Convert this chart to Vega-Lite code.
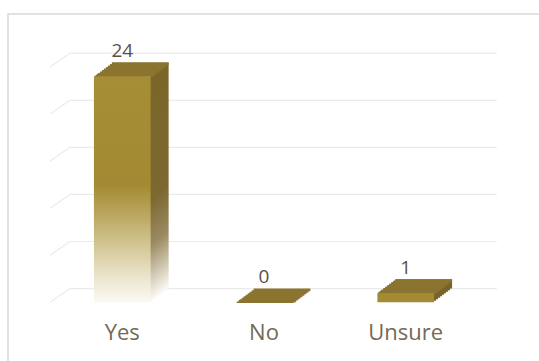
{
  "$schema": "https://vega.github.io/schema/vega-lite/v6.json",
  "width": 540,
  "height": 360,
  "autosize": "none",
  "padding": {"left": 8, "top": 14, "right": 0, "bottom": 0},
  "background": "white",
  "config": {"view": {"stroke": "#d9d9d9", "strokeWidth": 1.5}},
  "data": {"values": [
    {"cat": "Yes", "value": 24},
    {"cat": "No", "value": 0},
    {"cat": "Unsure", "value": 1}
  ]},
  "encoding": {
    "x": {"field": "cat", "type": "nominal", "sort": ["Yes", "No", "Unsure"], "axis": null,
          "scale": {"paddingInner": 0.6, "paddingOuter": 0.705, "align": 0.43}},
    "y": {"field": "value", "type": "quantitative", "axis": null,
          "scale": {"domain": [0, 25], "range": [288.3, 52.9], "nice": false, "zero": true}}
  },
  "layer": [
    {
      "data": {"values": [{"g": 0}, {"g": 5}, {"g": 10}, {"g": 15}, {"g": 20}, {"g": 25}]},
      "mark": {"type": "rule", "color": "#ebebeb", "strokeWidth": 1.2, "xOffset": -72.25, "x2Offset": -52.25, "y2Offset": -13.7},
      "encoding": {
        "x": {"datum": "Yes", "type": "nominal", "bandPosition": 0.5},
        "x2": {"datum": "Yes", "bandPosition": 0.5},
        "y": {"field": "g", "type": "quantitative"},
        "y2": {"field": "g"}
      }
    },
    {
      "data": {"values": [{"g": 0}, {"g": 5}, {"g": 10}, {"g": 15}, {"g": 20}, {"g": 25}]},
      "mark": {"type": "rule", "color": "#ebebeb", "strokeWidth": 1.2, "xOffset": -52.25, "x2Offset": 91, "yOffset": -13.7, "y2Offset": -13.7},
      "encoding": {
        "x": {"datum": "Yes", "type": "nominal", "bandPosition": 0.5},
        "x2": {"datum": "Unsure", "bandPosition": 0.5},
        "y": {"field": "g", "type": "quantitative"},
        "y2": {"field": "g"}
      }
    },
    {"mark": {"type": "bar", "xOffset": 18, "yOffset": -13.7, "y2Offset": -13.7}, "encoding": {"fill": {"condition": {"test": "datum.value > 5", "value": {"gradient": "linear", "x1": 0, "y1": 0, "x2": 0, "y2": 1, "stops": [{"offset": 0, "color": "#7b6629"}, {"offset": 0.55, "color": "#7d6830"}, {"offset": 0.75, "color": "#9a8b62"}, {"offset": 0.9, "color": "#d6cebb"}, {"offset": 1, "color": "#fbfaf6"}]}}, "value": "#786428"}}},
    {"mark": {"type": "bar", "xOffset": 16, "yOffset": -12.16, "y2Offset": -12.16}, "encoding": {"fill": {"condition": {"test": "datum.value > 5", "value": {"gradient": "linear", "x1": 0, "y1": 0, "x2": 0, "y2": 1, "stops": [{"offset": 0, "color": "#7b6629"}, {"offset": 0.55, "color": "#7d6830"}, {"offset": 0.75, "color": "#9a8b62"}, {"offset": 0.9, "color": "#d6cebb"}, {"offset": 1, "color": "#fbfaf6"}]}}, "value": "#786428"}}},
    {"mark": {"type": "bar", "xOffset": 14, "yOffset": -10.64, "y2Offset": -10.64}, "encoding": {"fill": {"condition": {"test": "datum.value > 5", "value": {"gradient": "linear", "x1": 0, "y1": 0, "x2": 0, "y2": 1, "stops": [{"offset": 0, "color": "#7b6629"}, {"offset": 0.55, "color": "#7d6830"}, {"offset": 0.75, "color": "#9a8b62"}, {"offset": 0.9, "color": "#d6cebb"}, {"offset": 1, "color": "#fbfaf6"}]}}, "value": "#786428"}}},
    {"mark": {"type": "bar", "xOffset": 12, "yOffset": -9.12, "y2Offset": -9.12}, "encoding": {"fill": {"condition": {"test": "datum.value > 5", "value": {"gradient": "linear", "x1": 0, "y1": 0, "x2": 0, "y2": 1, "stops": [{"offset": 0, "color": "#7b6629"}, {"offset": 0.55, "color": "#7d6830"}, {"offset": 0.75, "color": "#9a8b62"}, {"offset": 0.9, "color": "#d6cebb"}, {"offset": 1, "color": "#fbfaf6"}]}}, "value": "#786428"}}},
    {"mark": {"type": "bar", "xOffset": 10, "yOffset": -7.6, "y2Offset": -7.6}, "encoding": {"fill": {"condition": {"test": "datum.value > 5", "value": {"gradient": "linear", "x1": 0, "y1": 0, "x2": 0, "y2": 1, "stops": [{"offset": 0, "color": "#7b6629"}, {"offset": 0.55, "color": "#7d6830"}, {"offset": 0.75, "color": "#9a8b62"}, {"offset": 0.9, "color": "#d6cebb"}, {"offset": 1, "color": "#fbfaf6"}]}}, "value": "#786428"}}},
    {"mark": {"type": "bar", "xOffset": 8, "yOffset": -6.08, "y2Offset": -6.08}, "encoding": {"fill": {"condition": {"test": "datum.value > 5", "value": {"gradient": "linear", "x1": 0, "y1": 0, "x2": 0, "y2": 1, "stops": [{"offset": 0, "color": "#7b6629"}, {"offset": 0.55, "color": "#7d6830"}, {"offset": 0.75, "color": "#9a8b62"}, {"offset": 0.9, "color": "#d6cebb"}, {"offset": 1, "color": "#fbfaf6"}]}}, "value": "#786428"}}},
    {"mark": {"type": "bar", "xOffset": 6, "yOffset": -4.56, "y2Offset": -4.56}, "encoding": {"fill": {"condition": {"test": "datum.value > 5", "value": {"gradient": "linear", "x1": 0, "y1": 0, "x2": 0, "y2": 1, "stops": [{"offset": 0, "color": "#7b6629"}, {"offset": 0.55, "color": "#7d6830"}, {"offset": 0.75, "color": "#9a8b62"}, {"offset": 0.9, "color": "#d6cebb"}, {"offset": 1, "color": "#fbfaf6"}]}}, "value": "#786428"}}},
    {"mark": {"type": "bar", "xOffset": 4, "yOffset": -3.04, "y2Offset": -3.04}, "encoding": {"fill": {"condition": {"test": "datum.value > 5", "value": {"gradient": "linear", "x1": 0, "y1": 0, "x2": 0, "y2": 1, "stops": [{"offset": 0, "color": "#7b6629"}, {"offset": 0.55, "color": "#7d6830"}, {"offset": 0.75, "color": "#9a8b62"}, {"offset": 0.9, "color": "#d6cebb"}, {"offset": 1, "color": "#fbfaf6"}]}}, "value": "#786428"}}},
    {"mark": {"type": "bar", "xOffset": 2, "yOffset": -1.52, "y2Offset": -1.52}, "encoding": {"fill": {"condition": {"test": "datum.value > 5", "value": {"gradient": "linear", "x1": 0, "y1": 0, "x2": 0, "y2": 1, "stops": [{"offset": 0, "color": "#7b6629"}, {"offset": 0.55, "color": "#7d6830"}, {"offset": 0.75, "color": "#9a8b62"}, {"offset": 0.9, "color": "#d6cebb"}, {"offset": 1, "color": "#fbfaf6"}]}}, "value": "#786428"}}},
    {"mark": {"type": "bar", "color": "#8a7430", "xOffset": 18, "yOffset": -13.7, "y2Offset": -11.1}, "encoding": {"y2": {"field": "value"}}},
    {"mark": {"type": "bar", "color": "#8a7430", "xOffset": 16, "yOffset": -12.16, "y2Offset": -9.56}, "encoding": {"y2": {"field": "value"}}},
    {"mark": {"type": "bar", "color": "#8a7430", "xOffset": 14, "yOffset": -10.64, "y2Offset": -8.04}, "encoding": {"y2": {"field": "value"}}},
    {"mark": {"type": "bar", "color": "#8a7430", "xOffset": 12, "yOffset": -9.12, "y2Offset": -6.52}, "encoding": {"y2": {"field": "value"}}},
    {"mark": {"type": "bar", "color": "#8a7430", "xOffset": 10, "yOffset": -7.6, "y2Offset": -5.0}, "encoding": {"y2": {"field": "value"}}},
    {"mark": {"type": "bar", "color": "#8a7430", "xOffset": 8, "yOffset": -6.08, "y2Offset": -3.48}, "encoding": {"y2": {"field": "value"}}},
    {"mark": {"type": "bar", "color": "#8a7430", "xOffset": 6, "yOffset": -4.56, "y2Offset": -1.96}, "encoding": {"y2": {"field": "value"}}},
    {"mark": {"type": "bar", "color": "#8a7430", "xOffset": 4, "yOffset": -3.04, "y2Offset": -0.44}, "encoding": {"y2": {"field": "value"}}},
    {"mark": {"type": "bar", "color": "#8a7430", "xOffset": 3, "yOffset": -2.28, "y2Offset": 0.32}, "encoding": {"y2": {"field": "value"}}},
    {"mark": {"type": "bar", "color": "#8a7430", "xOffset": 1, "yOffset": -0.76, "y2Offset": 0.6}, "encoding": {"y2": {"field": "value"}}},
    {"mark": {"type": "bar"}, "encoding": {"fill": {"condition": {"test": "datum.value > 5", "value": {"gradient": "linear", "x1": 0, "y1": 0, "x2": 0, "y2": 1, "stops": [{"offset": 0, "color": "#a68e36"}, {"offset": 0.48, "color": "#a38a32"}, {"offset": 0.62, "color": "#bba862"}, {"offset": 0.76, "color": "#d5c999"}, {"offset": 0.9, "color": "#ede7d1"}, {"offset": 1, "color": "#fbf9f3"}]}}, "value": "#a38b33"}}},
    {"mark": {"type": "text", "font": "Open Sans", "fontSize": 19, "color": "#5a5245", "baseline": "middle", "align": "center", "dy": -25}, "encoding": {"text": {"field": "value", "type": "quantitative"}}},
    {"mark": {"type": "text", "font": "Open Sans", "fontSize": 22, "color": "#736a55", "baseline": "middle", "align": "center", "dy": 31}, "encoding": {"y": {"datum": 0, "type": "quantitative"}, "text": {"field": "cat", "type": "nominal"}}}
  ]
}
